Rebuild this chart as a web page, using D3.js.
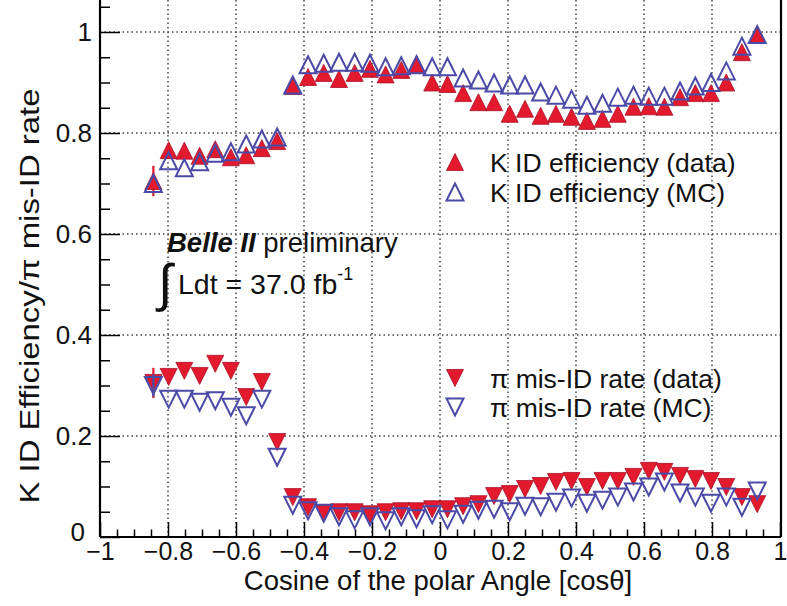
<!DOCTYPE html>
<html>
<head>
<meta charset="utf-8">
<script src="https://cdn.jsdelivr.net/npm/d3@7"></script>
<style>
  html, body { margin: 0; padding: 0; background: #fff; }
  svg { display: block; font-family: "Liberation Sans", Arial, Helvetica, sans-serif; }
</style>
</head>
<body>
<svg id="chart" width="787" height="606"></svg>
<script>
// ---- data ----
const binCenters = [-0.843, -0.798, -0.752, -0.707, -0.661, -0.615, -0.570, -0.524, -0.479, -0.433,
                    -0.388, -0.342, -0.297, -0.251, -0.206, -0.160, -0.114, -0.069, -0.023, 0.022,
                     0.068, 0.113, 0.159, 0.205, 0.250, 0.296, 0.341, 0.387, 0.432, 0.478,
                     0.523, 0.569, 0.614, 0.660, 0.706, 0.751, 0.797, 0.842, 0.888, 0.933];
const kEffData = [0.705, 0.766, 0.765, 0.755, 0.768, 0.752, 0.756, 0.770, 0.784, 0.893,
                  0.911, 0.919, 0.907, 0.919, 0.927, 0.916, 0.925, 0.937, 0.900, 0.897,
                  0.879, 0.861, 0.861, 0.838, 0.848, 0.834, 0.838, 0.832, 0.824, 0.828,
                  0.838, 0.852, 0.853, 0.852, 0.871, 0.879, 0.879, 0.900, 0.960, 0.994];
const kEffMC   = [0.700, 0.745, 0.731, 0.743, 0.760, 0.763, 0.778, 0.788, 0.792, 0.895,
                  0.935, 0.938, 0.940, 0.940, 0.938, 0.931, 0.933, 0.935, 0.931, 0.931,
                  0.909, 0.905, 0.899, 0.895, 0.895, 0.881, 0.875, 0.867, 0.855, 0.859,
                  0.871, 0.875, 0.873, 0.873, 0.883, 0.893, 0.900, 0.923, 0.972, 0.995];
const piData   = [0.305, 0.317, 0.329, 0.319, 0.343, 0.329, 0.277, 0.307, 0.188, 0.079,
                  0.059, 0.047, 0.049, 0.049, 0.045, 0.049, 0.051, 0.051, 0.055, 0.055,
                  0.061, 0.065, 0.081, 0.085, 0.095, 0.101, 0.109, 0.111, 0.099, 0.111,
                  0.111, 0.119, 0.131, 0.129, 0.121, 0.115, 0.111, 0.099, 0.079, 0.065];
const piMC     = [0.300, 0.273, 0.273, 0.267, 0.270, 0.257, 0.240, 0.273, 0.158, 0.063,
                  0.052, 0.047, 0.040, 0.034, 0.040, 0.032, 0.040, 0.036, 0.044, 0.034,
                  0.045, 0.053, 0.055, 0.050, 0.061, 0.060, 0.069, 0.077, 0.067, 0.073,
                  0.079, 0.089, 0.099, 0.109, 0.087, 0.079, 0.067, 0.079, 0.059, 0.091];
// error bars (only visible on the first bin)
const kEffDataErr = [0.030, 0,0,0,0,0,0,0,0,0, 0,0,0,0,0,0,0,0,0,0, 0,0,0,0,0,0,0,0,0,0, 0,0,0,0,0,0,0,0,0,0];
const piDataErr   = [0.030, 0,0,0,0,0,0,0,0,0, 0,0,0,0,0,0,0,0,0,0, 0,0,0,0,0,0,0,0,0,0, 0,0,0,0,0,0,0,0,0,0];
const piMCErr     = [0.022, 0,0,0,0,0,0,0,0,0, 0,0,0,0,0,0,0,0,0,0, 0,0,0,0,0,0,0,0,0,0, 0,0,0,0,0,0,0,0,0,0];

const xMajorTicks = [-1, -0.8, -0.6, -0.4, -0.2, 0, 0.2, 0.4, 0.6, 0.8, 1];
const yMajorTicks = [0, 0.2, 0.4, 0.6, 0.8, 1];
const legendLabels = ["K ID efficiency (data)", "K ID efficiency (MC)", "\u03c0 mis-ID rate (data)", "\u03c0 mis-ID rate (MC)"];
const xTitle = "Cosine of the polar Angle [cos\u03b8]";
const yTitle = "K ID Efficiency/\u03c0 mis-ID rate";

// ---- styles ----
const RED = "#e3192d", RED_EDGE = "#a8122a", BLUE = "#4b4aa6";
const MS = 8.5; // marker half-size

const svg = d3.select("#chart");
const L = 100, R = 780, B = 537, T = 32;
const x = d3.scaleLinear().domain([-1, 1]).range([L, R]);
const y = d3.scaleLinear().domain([0, 1]).range([B, T]);

// grid
const grid = svg.append("g").attr("stroke", "#444").attr("stroke-width", 1.5).attr("stroke-dasharray", "1.5,3");
grid.selectAll("line.v").data(xMajorTicks.filter(d => d > -1 && d < 1)).join("line")
  .attr("x1", d => x(d)).attr("x2", d => x(d)).attr("y1", B).attr("y2", -5);
grid.selectAll("line.h").data(yMajorTicks.filter(d => d > 0)).join("line")
  .attr("x1", L).attr("x2", R).attr("y1", d => y(d)).attr("y2", d => y(d));

// minor tick values
const xMinor = d3.range(-1, 1.0001, 0.05).map(v => +v.toFixed(2)).filter(v => Math.abs(Math.round(v * 5) - v * 5) > 1e-6);
const yMinor = d3.range(0, 1.06, 0.05).map(v => +v.toFixed(2)).filter(v => Math.abs(Math.round(v * 5) - v * 5) > 1e-6);

const fmt = d => d3.format("~g")(d);

// x axis
const gx = svg.append("g").attr("transform", `translate(0,${B})`)
  .call(d3.axisBottom(x).tickValues(xMajorTicks).tickSize(-15).tickPadding(5).tickFormat(fmt));
gx.select(".domain").remove();
gx.selectAll(".tick line").attr("stroke", "#000").attr("stroke-width", 1.5);
gx.selectAll(".tick text").attr("font-size", 25).attr("fill", "#111").attr("font-family", "Liberation Sans, Arial, sans-serif");
const gxm = svg.append("g").attr("transform", `translate(0,${B})`)
  .call(d3.axisBottom(x).tickValues(xMinor).tickSize(-7.5).tickFormat(""));
gxm.select(".domain").remove();
gxm.selectAll(".tick line").attr("stroke", "#000").attr("stroke-width", 1.5);

// y axis
const gy = svg.append("g").attr("transform", `translate(${L},0)`)
  .call(d3.axisLeft(y).tickValues(yMajorTicks).tickSize(-20).tickPadding(8).tickFormat(fmt));
gy.select(".domain").remove();
gy.selectAll(".tick line").attr("stroke", "#000").attr("stroke-width", 1.5);
gy.selectAll(".tick text").attr("font-size", 26).attr("fill", "#111").attr("font-family", "Liberation Sans, Arial, sans-serif");
gy.selectAll(".tick text").filter(d => d === 0).attr("dx", -7).attr("dy", "0.12em");
const gym = svg.append("g").attr("transform", `translate(${L},0)`)
  .call(d3.axisLeft(y).tickValues(yMinor).tickSize(-10).tickFormat(""));
gym.select(".domain").remove();
gym.selectAll(".tick line").attr("stroke", "#000").attr("stroke-width", 1.5);

// frame
const frame = svg.append("g").attr("stroke", "#000").attr("stroke-width", 2.2).attr("fill", "none");
frame.append("line").attr("x1", L).attr("x2", L).attr("y1", -5).attr("y2", B);
frame.append("line").attr("x1", L).attr("x2", R + 1).attr("y1", B).attr("y2", B);
frame.append("line").attr("x1", R + 1).attr("x2", R + 1).attr("y1", -5).attr("y2", B);

// axis titles
svg.append("text").attr("x", 438).attr("y", 590).attr("text-anchor", "middle")
  .attr("font-size", 27.5).attr("fill", "#111").text(xTitle);
svg.append("text").attr("transform", "translate(39,296) rotate(-90)").attr("text-anchor", "middle")
  .attr("font-size", 28).attr("fill", "#111")
  .attr("textLength", 415).attr("lengthAdjust", "spacingAndGlyphs").text(yTitle);

// marker helpers
function tri(cx, cy, s, up) {
  return up ? `M${cx - s},${cy + s}L${cx + s},${cy + s}L${cx},${cy - s}Z`
            : `M${cx - s},${cy - s}L${cx + s},${cy - s}L${cx},${cy + s}Z`;
}
function drawSeries(vals, errs, up, filled, color) {
  const g = svg.append("g");
  if (errs) {
    g.selectAll("line").data(vals.map((v, i) => ({ v, e: errs[i], c: binCenters[i] })).filter(d => d.e > 0))
      .join("line").attr("x1", d => x(d.c)).attr("x2", d => x(d.c))
      .attr("y1", d => y(d.v - d.e)).attr("y2", d => y(d.v + d.e))
      .attr("stroke", color).attr("stroke-width", 2.2);
  }
  g.selectAll("path").data(vals).join("path")
    .attr("d", (v, i) => tri(x(binCenters[i]), y(v), MS, up))
    .attr("fill", filled ? color : "none")
    .attr("stroke", filled ? RED_EDGE : color)
    .attr("stroke-width", filled ? 0.8 : 2)
    .attr("stroke-linejoin", "miter");
}
drawSeries(kEffData, kEffDataErr, true, true, RED);
drawSeries(piData, piDataErr, false, true, RED);
drawSeries(kEffMC, null, true, false, BLUE);
drawSeries(piMC, piMCErr, false, false, BLUE);

// legends
const legendRows = [
  { y: 162, up: true, filled: true },
  { y: 192, up: true, filled: false },
  { y: 378, up: false, filled: true },
  { y: 407, up: false, filled: false }
];
legendRows.forEach((r, i) => {
  svg.append("path").attr("d", tri(455, r.y, MS, r.up))
    .attr("fill", r.filled ? RED : "none").attr("stroke", r.filled ? RED_EDGE : BLUE)
    .attr("stroke-width", r.filled ? 0.8 : 2);
  svg.append("text").attr("x", 490).attr("y", r.y + 9.5).attr("font-size", 26.5).attr("fill", "#111")
    .text(legendLabels[i]);
});

// Belle II preliminary
const bt = svg.append("text").attr("x", 167).attr("y", 252).attr("font-size", 27.5).attr("fill", "#111");
bt.append("tspan").attr("font-weight", "bold").attr("font-style", "italic").text("Belle II");
bt.append("tspan").text(" preliminary");

// integrated luminosity
svg.append("text").attr("x", 158).attr("y", 301).attr("font-size", 52).attr("fill", "#111")
  .attr("font-family", "DejaVu Sans, sans-serif").attr("font-weight", "200").text("\u222b");
const lt = svg.append("text").attr("x", 178).attr("y", 294).attr("font-size", 28.5).attr("fill", "#111");
lt.append("tspan").text("Ldt = 37.0 fb");
lt.append("tspan").attr("font-size", 18).attr("dy", -14).text("-1");
</script>
</body>
</html>
